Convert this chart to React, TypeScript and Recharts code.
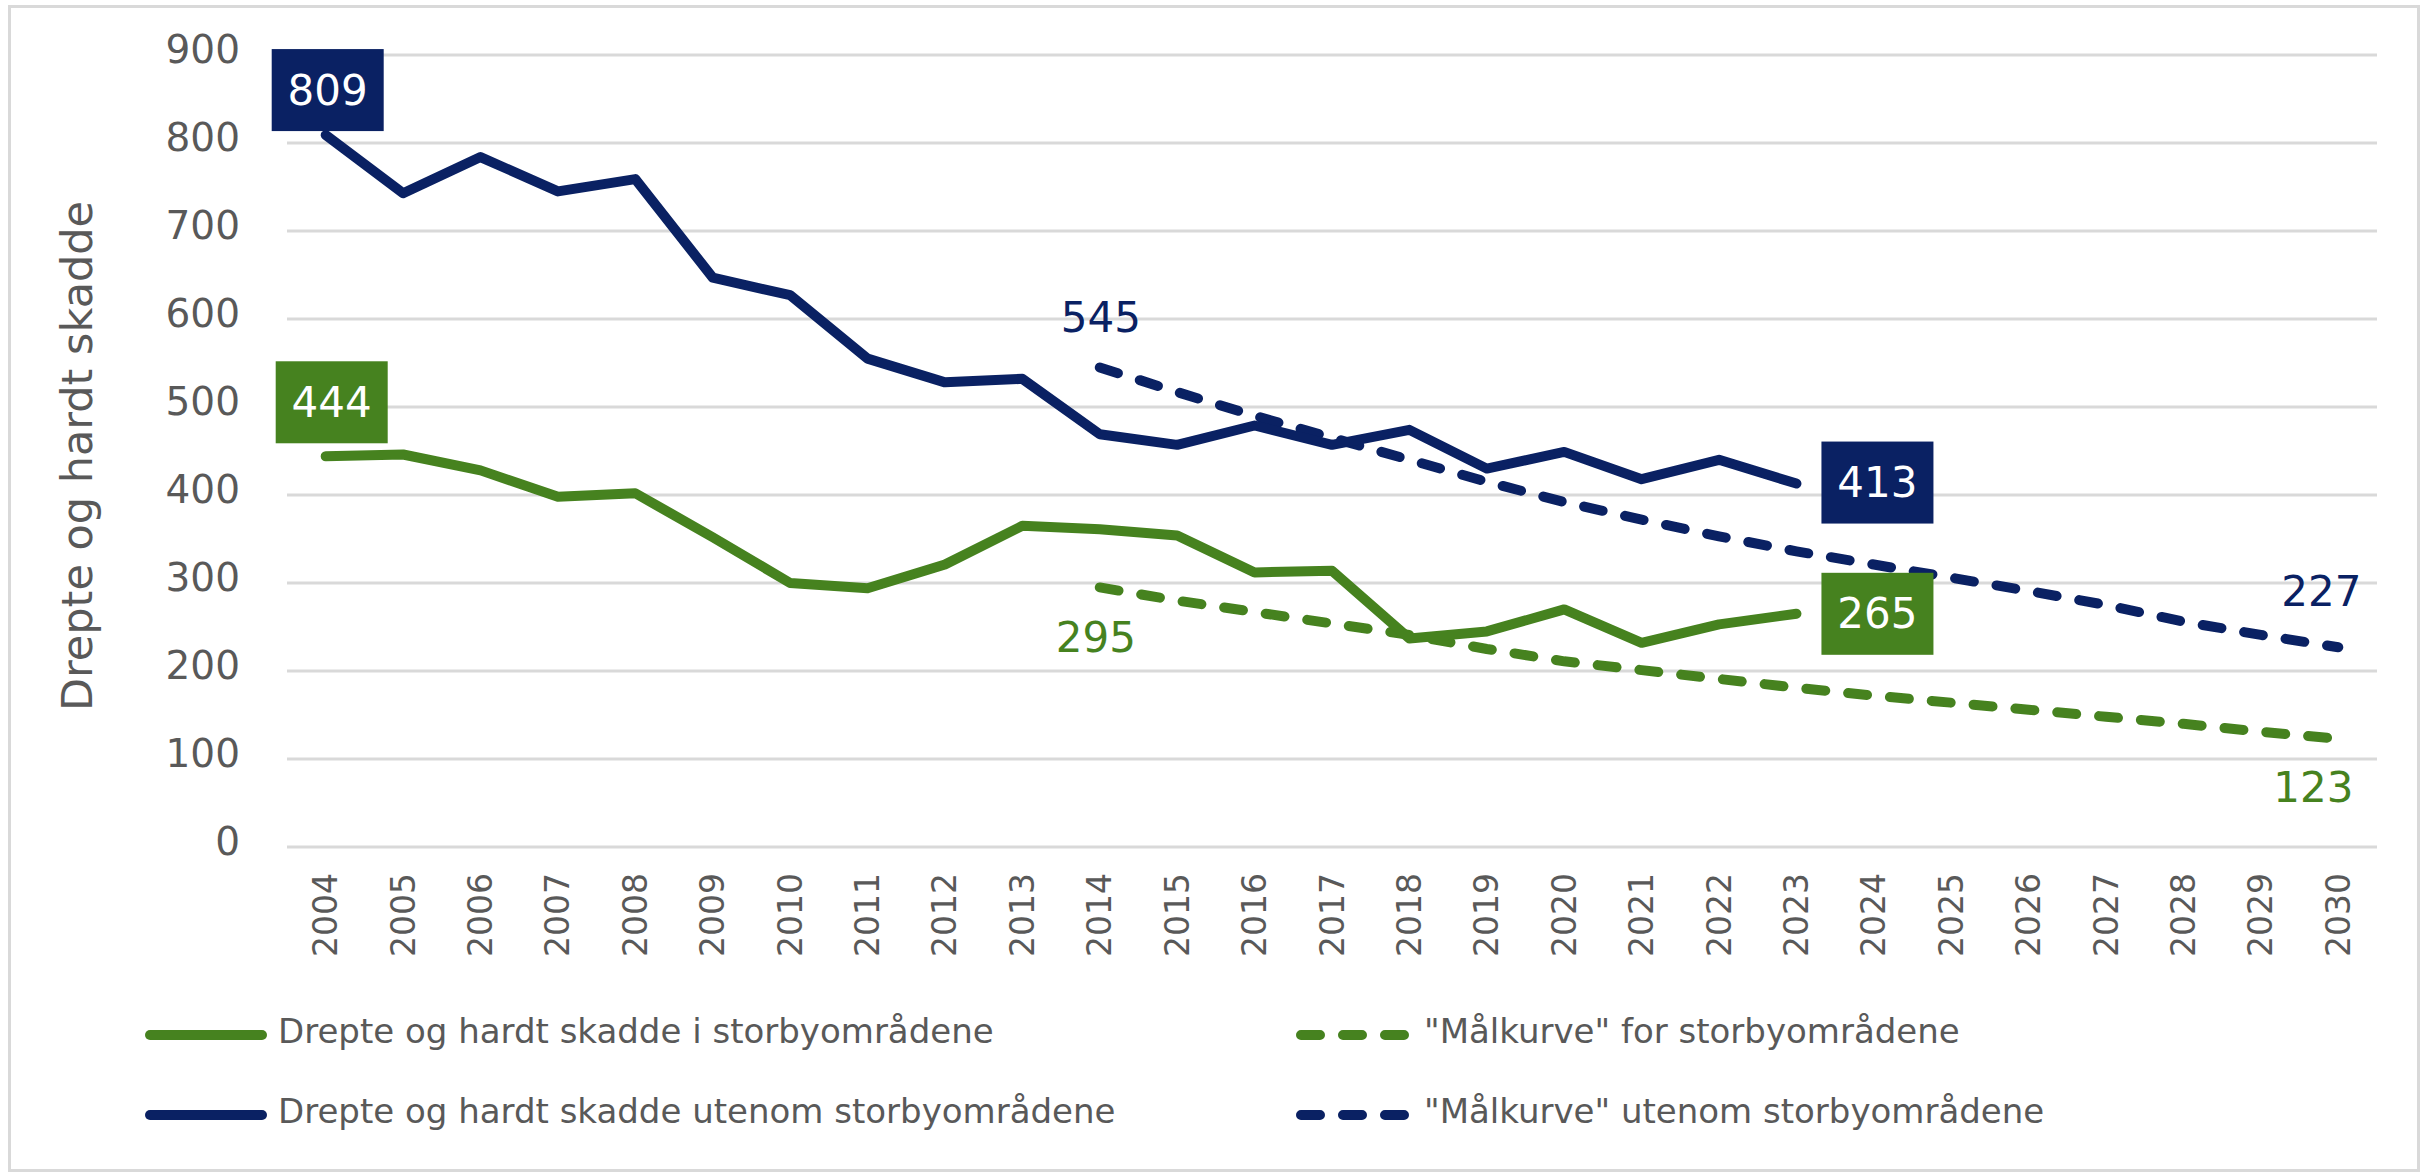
import { LineChart, Line, XAxis, YAxis, CartesianGrid, Legend, LabelList, Label } from "recharts";

const years = [
  "2004", "2005", "2006", "2007", "2008", "2009", "2010", "2011", "2012", "2013",
  "2014", "2015", "2016", "2017", "2018", "2019", "2020", "2021", "2022", "2023",
  "2024", "2025", "2026", "2027", "2028", "2029", "2030",
];

// 2004-2023
const urbanActual = [444, 446, 428, 398, 402, 352, 300, 294, 321, 365, 361, 354, 312, 314, 237, 245, 270, 232, 253, 265];
const ruralActual = [809, 743, 784, 745, 759, 647, 627, 555, 528, 532, 469, 457, 479, 457, 474, 430, 449, 418, 440, 413];

// "målkurve" 2014-2030
const targetStart = "2014";
const urbanTarget = [295, 280, 267, 254, 241, 225, 211, 201, 191, 181, 172, 164, 156, 148, 140, 131, 123];
const ruralTarget = [545, 517, 490, 465, 440, 415, 392, 372, 353, 336, 321, 306, 291, 275, 256, 241, 227];

const yTicks = [0, 100, 200, 300, 400, 500, 600, 700, 800, 900];

const GREEN = "#46821F";
const NAVY = "#0A2163";
const GRAY = "#595959";
const FONT = "'DejaVu Sans', Verdana, sans-serif";
const DASH = "19 23";

const startIdx = years.indexOf(targetStart);
const data = years.map((year, i) => ({
  year,
  urbanActual: urbanActual[i] ?? null,
  ruralActual: ruralActual[i] ?? null,
  urbanTarget: i >= startIdx ? urbanTarget[i - startIdx] ?? null : null,
  ruralTarget: i >= startIdx ? ruralTarget[i - startIdx] ?? null : null,
}));

type Spot = { box: boolean; dx: number; dy: number };

// only a few points carry a label; offsets are from the point
const makeLabel = (color: string, spots: Record<number, Spot>) => (props: any) => {
  const { index, value } = props;
  const spot = spots[index];
  if (!spot || value == null) return null;
  const vb = props.viewBox ?? {};
  const px = Number(vb.x ?? props.x);
  const py = Number(vb.y ?? props.y);
  const cx = px + spot.dx;
  const cy = py + spot.dy;
  if (spot.box) {
    return (
      <g>
        <rect x={cx - 56} y={cy - 41} width={112} height={82} fill={color} />
        <text x={cx} y={cy} textAnchor="middle" dominantBaseline="central" fill="#fff" fontSize={42} fontFamily={FONT}>
          {value}
        </text>
      </g>
    );
  }
  return (
    <text x={cx} y={cy} textAnchor="middle" dominantBaseline="central" fill={color} fontSize={42} fontFamily={FONT}>
      {value}
    </text>
  );
};

const lastActual = urbanActual.length - 1;
const lastTarget = urbanTarget.length - 1;

const urbanActualLabel = makeLabel(GREEN, {
  0: { box: true, dx: 6, dy: -54 },
  [lastActual]: { box: true, dx: 81, dy: 0 },
});
const ruralActualLabel = makeLabel(NAVY, {
  0: { box: true, dx: 2, dy: -45 },
  [lastActual]: { box: true, dx: 81, dy: -1 },
});
const urbanTargetLabel = makeLabel(GREEN, {
  [startIdx]: { box: false, dx: -4, dy: 50 },
  [startIdx + lastTarget]: { box: false, dx: -25, dy: 49 },
});
const ruralTargetLabel = makeLabel(NAVY, {
  [startIdx]: { box: false, dx: 1, dy: -50 },
  [startIdx + lastTarget]: { box: false, dx: -17, dy: -56 },
});

const YearTick = ({ x, y, payload }: any) => (
  <text
    x={x}
    y={y}
    transform={`rotate(-90 ${x} ${y})`}
    textAnchor="end"
    dominantBaseline="central"
    fontSize={33}
    fill={GRAY}
    fontFamily={FONT}
  >
    {payload.value}
  </text>
);

const ValueTick = ({ x, y, payload }: any) => (
  <text x={x} y={y - 6} textAnchor="end" dominantBaseline="central" fontSize={39} fill={GRAY} fontFamily={FONT}>
    {payload.value}
  </text>
);

const legendSpots: Record<string, { left: number; top: number }> = {
  urbanActual: { left: 145, top: 45 },
  urbanTarget: { left: 1296, top: 45 },
  ruralActual: { left: 145, top: 125 },
  ruralTarget: { left: 1296, top: 125 },
};

const renderLegend = (props: any) => {
  const items = props.payload ?? [];
  return (
    <div style={{ position: "relative", width: 2425, height: 170 }}>
      {items.map((item: any) => {
        const spot = legendSpots[item.dataKey];
        if (!spot) return null;
        const dashed = !!item.payload?.strokeDasharray;
        const w = dashed ? 114 : 122;
        return (
          <div
            key={item.dataKey}
            style={{
              position: "absolute",
              left: spot.left,
              top: spot.top - 25,
              height: 50,
              display: "flex",
              alignItems: "center",
              whiteSpace: "nowrap",
            }}
          >
            <svg width={w} height={14} style={{ display: "block" }}>
              <line
                x1={5}
                y1={7}
                x2={w - 5}
                y2={7}
                stroke={item.color}
                strokeWidth={10}
                strokeLinecap="round"
                strokeDasharray={dashed ? DASH : undefined}
              />
            </svg>
            <span
              style={{
                marginLeft: dashed ? 14 : 11,
                fontSize: 34,
                color: GRAY,
                fontFamily: FONT,
                position: "relative",
                top: -4,
              }}
            >
              {item.value}
            </span>
          </div>
        );
      })}
    </div>
  );
};

const renderTitle = () => (
  <text
    x={77}
    y={456}
    transform="rotate(-90 77 456)"
    textAnchor="middle"
    dominantBaseline="central"
    fontSize={43}
    fill={GRAY}
    fontFamily={FONT}
  >
    Drepte og hardt skadde
  </text>
);

export default function App() {
  return (
    <div style={{ position: "absolute", left: 0, top: 0, width: 2425, height: 1174, background: "#fff", fontFamily: FONT }}>
      <div
        style={{
          position: "absolute",
          left: 8,
          top: 5,
          width: 2412,
          height: 1167,
          border: "3px solid #d9d9d9",
          boxSizing: "border-box",
          pointerEvents: "none",
        }}
      />
      <LineChart width={2425} height={1174} data={data} margin={{ top: 55, right: 48, bottom: 0, left: 0 }}>
        <CartesianGrid vertical={false} stroke="#d9d9d9" strokeWidth={3} />
        <XAxis
          dataKey="year"
          interval={0}
          height={327}
          padding={{ left: 38.7, right: 38.7 }}
          axisLine={false}
          tickLine={false}
          tickMargin={20}
          tick={<YearTick />}
        />
        <YAxis
          width={287}
          domain={[0, 900]}
          ticks={yTicks}
          axisLine={false}
          tickLine={false}
          tickMargin={41}
          tick={<ValueTick />}
        >
          <Label content={renderTitle} />
        </YAxis>
        <Legend verticalAlign="middle" content={renderLegend} wrapperStyle={{ position: "absolute", left: 0, top: 990, width: 2425, height: 170, margin: 0 }} />
        <Line
          name={'"Målkurve" for storbyområdene'}
          dataKey="urbanTarget"
          stroke={GREEN}
          strokeWidth={10}
          strokeDasharray={DASH}
          strokeLinecap="round"
          dot={false}
          activeDot={false}
          isAnimationActive={false}
        >
          <LabelList dataKey="urbanTarget" content={urbanTargetLabel} />
        </Line>
        <Line
          name={'"Målkurve" utenom storbyområdene'}
          dataKey="ruralTarget"
          stroke={NAVY}
          strokeWidth={10}
          strokeDasharray={DASH}
          strokeLinecap="round"
          dot={false}
          activeDot={false}
          isAnimationActive={false}
        >
          <LabelList dataKey="ruralTarget" content={ruralTargetLabel} />
        </Line>
        <Line
          name="Drepte og hardt skadde i storbyområdene"
          dataKey="urbanActual"
          stroke={GREEN}
          strokeWidth={10}
          strokeLinecap="round"
          strokeLinejoin="round"
          dot={false}
          activeDot={false}
          isAnimationActive={false}
        >
          <LabelList dataKey="urbanActual" content={urbanActualLabel} />
        </Line>
        <Line
          name="Drepte og hardt skadde utenom storbyområdene"
          dataKey="ruralActual"
          stroke={NAVY}
          strokeWidth={10}
          strokeLinecap="round"
          strokeLinejoin="round"
          dot={false}
          activeDot={false}
          isAnimationActive={false}
        >
          <LabelList dataKey="ruralActual" content={ruralActualLabel} />
        </Line>
      </LineChart>
    </div>
  );
}
